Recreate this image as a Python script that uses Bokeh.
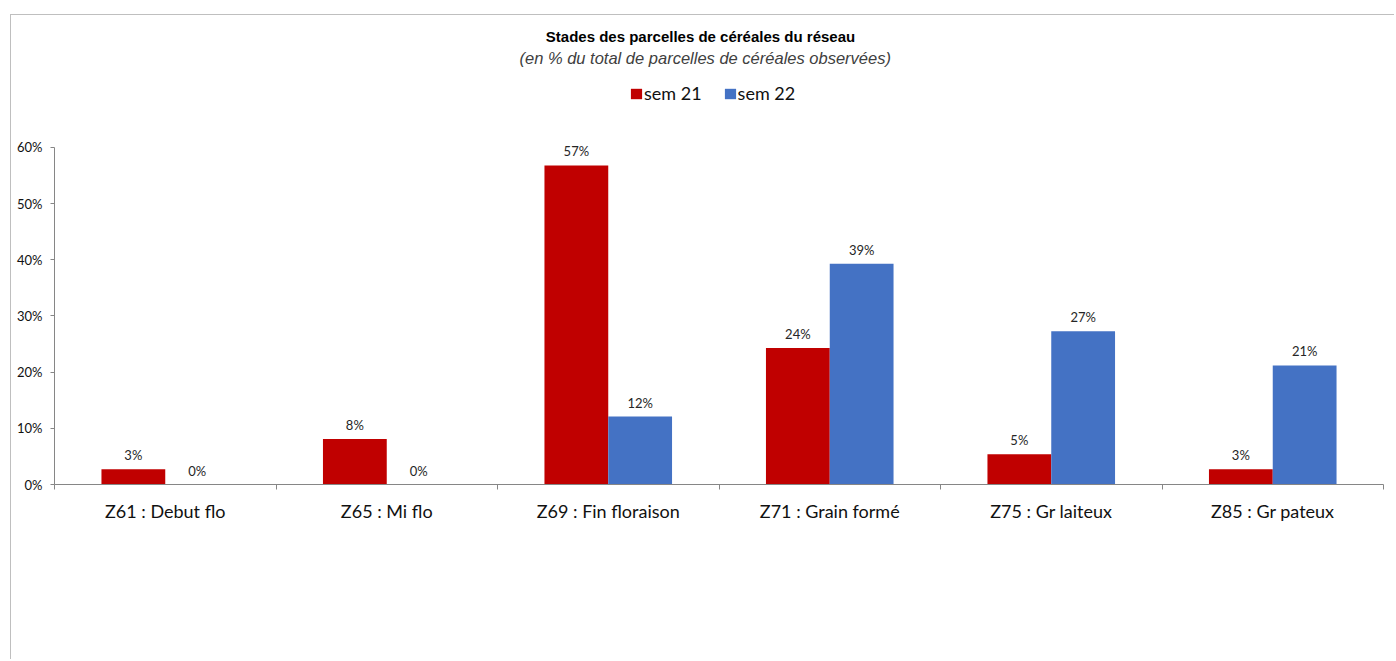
from bokeh.plotting import figure
from bokeh.models import (ColumnDataSource, FixedTicker, PrintfTickFormatter, LabelSet,
                          Label, Legend, LegendItem)
from bokeh.transform import dodge
from bokeh.embed import file_html
from bokeh.resources import INLINE
from bokeh.core.properties import value

categories = ["Z61 : Debut flo", "Z65 : Mi flo", "Z69 : Fin floraison",
              "Z71 : Grain formé", "Z75 : Gr laiteux", "Z85 : Gr pateux"]
sem21 = [2.7, 8.1, 56.8, 24.3, 5.4, 2.7]
sem22 = [0.0, 0.0, 12.1, 39.3, 27.3, 21.2]
series_names = ["sem 21", "sem 22"]
y_ticks = [0, 10, 20, 30, 40, 50, 60]

RED = "#C00000"
BLUE = "#4472C4"
AXIS = "#868686"

xpos = [i + 0.5 for i in range(len(categories))]
src = ColumnDataSource(dict(
    x=xpos, sem21=sem21, sem22=sem22,
    lab21=[f"{round(v)}%" for v in sem21],
    lab22=[f"{round(v)}%" for v in sem22],
))

# frame reaches up to the top of the canvas so the titles and legend can sit inside it;
# the y axis line is bounded to 0..60 %
p = figure(width=1384, height=645, output_backend="svg", toolbar_location=None,
           x_range=(0, len(categories)), y_range=(0, 83.5),
           min_border_left=43, min_border_right=12, min_border_top=0, min_border_bottom=176)
p.styles = {"border-left": "1px solid #bfbfbf", "border-top": "1px solid #bfbfbf",
            "margin-left": "10px", "margin-top": "14px"}
p.outline_line_color = None
p.xgrid.visible = False
p.ygrid.visible = False
p.background_fill_color = None
p.border_fill_color = "white"

bw = 0.288
off = 0.144
r1 = p.vbar(x=dodge("x", -off, range=p.x_range), top="sem21", width=bw, source=src,
            fill_color=RED, line_color=None)
r2 = p.vbar(x=dodge("x", off, range=p.x_range), top="sem22", width=bw, source=src,
            fill_color=BLUE, line_color=None)

for col, lab, o in (("sem21", "lab21", -off), ("sem22", "lab22", off)):
    ls = LabelSet(x=dodge("x", o, range=p.x_range), y=col, text=lab, source=src,
                  text_align="center", text_baseline="bottom", y_offset=6,
                  text_font=value("Lato"), text_font_size="13px", text_color="#262626")
    p.add_layout(ls)

# x axis
xa = p.xaxis[0]
xa.ticker = FixedTicker(ticks=xpos, minor_ticks=list(range(len(categories) + 1)))
xa.major_label_overrides = {x: c for x, c in zip(xpos, categories)}
xa.major_tick_out = 0
xa.major_tick_in = 0
xa.minor_tick_out = 5
xa.minor_tick_in = 0
xa.minor_tick_line_color = AXIS
xa.axis_line_color = AXIS
xa.major_label_standoff = 10
xa.major_label_text_font = "Lato"
xa.major_label_text_font_size = "18px"
xa.major_label_text_color = "#111111"

ya = p.yaxis[0]
ya.ticker = FixedTicker(ticks=y_ticks, minor_ticks=[])
ya.bounds = (0, 60)
ya.formatter = PrintfTickFormatter(format="%d%%")
ya.major_tick_out = 4
ya.major_tick_in = 0
ya.major_tick_line_color = AXIS
ya.axis_line_color = AXIS
ya.major_label_standoff = 8
ya.major_label_text_font = "Lato"
ya.major_label_text_font_size = "13px"
ya.major_label_text_color = "#111111"

# titles (screen units relative to the plot frame's bottom-left corner)
p.add_layout(Label(x=646, y=448, x_units="screen", y_units="screen",
                   text="Stades des parcelles de céréales du réseau",
                   text_align="center", text_baseline="middle",
                   text_font="Liberation Sans", text_font_style="bold",
                   text_font_size="15px", text_color="black"))
p.add_layout(Label(x=653, y=427, x_units="screen", y_units="screen",
                   text="(en %  du total de parcelles de céréales observées)",
                   text_align="center", text_baseline="middle",
                   text_font="Liberation Sans", text_font_style="italic",
                   text_font_size="16.5px", text_color="#404040"))

legend = Legend(items=[LegendItem(label=series_names[0], renderers=[r1]),
                       LegendItem(label=series_names[1], renderers=[r2])],
                orientation="horizontal", location=(575, 380),
                padding=0, margin=0, spacing=21, label_standoff=1,
                glyph_width=14, glyph_height=13, label_height=18,
                border_line_color=None, background_fill_alpha=0,
                label_text_font="Lato", label_text_font_size="18px",
                label_text_color="#111111")
p.add_layout(legend)

open("out.html", "w").write(file_html(p, INLINE))
